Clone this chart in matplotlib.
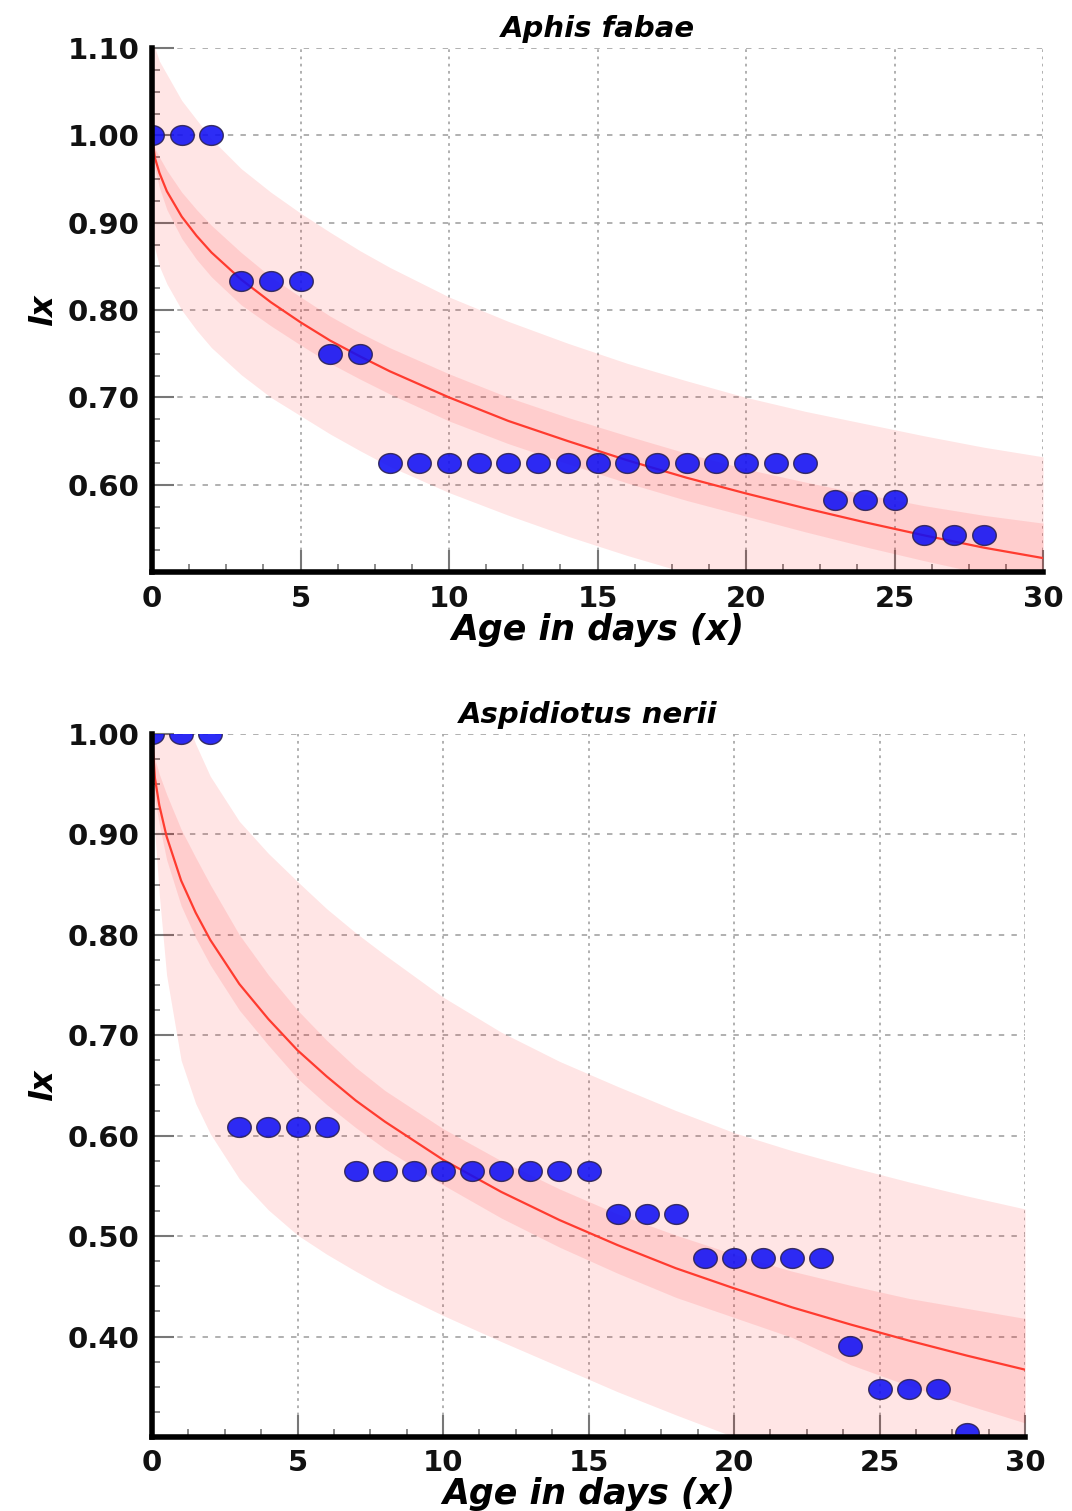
import numpy as np
import matplotlib
matplotlib.use("Agg")
import matplotlib.pyplot as plt
from matplotlib.path import Path
from matplotlib.ticker import MultipleLocator, FormatStrFormatter

# observed survivorship (lx) per age
age = list(range(0, 29))
aphis_lx = [1.0, 1.0, 1.0, 0.833, 0.833, 0.833, 0.75, 0.75] + [0.625]*15 + [0.583]*3 + [0.542]*3
aspid_lx = [1.0]*3 + [0.609]*4 + [0.565]*9 + [0.522]*3 + [0.478]*5 + [0.391] + [0.348]*3 + [0.304]

# fitted curve and bands
fit_x = [0, 0.1, 0.25, 0.5, 1, 1.5, 2, 3, 4, 5, 6, 7, 8, 10, 12, 14, 16, 18, 20, 22, 24, 26, 28, 30]

aphis_fit = [1.0, .974, .957, .936, .907, .885, .866, .835, .809, .786, .765, .747, .730, .700, .673, .650, .628, .608, .590, .573, .557, .542, .528, .516]
aphis_ci_hi = [1.0, .985, .975, .96, .935, .915, .897, .866, .838, .815, .793, .774, .757, .727, .700, .677, .656, .636, .618, .603, .589, .576, .565, .556]
aphis_ci_lo = [1.0, .962, .94, .915, .882, .858, .838, .806, .782, .760, .739, .721, .704, .673, .647, .624, .602, .582, .564, .546, .529, .513, .498, .484]
aphis_pi_hi = [1.12, 1.10, 1.085, 1.07, 1.04, 1.018, .996, .962, .935, .911, .889, .868, .849, .815, .787, .762, .739, .719, .70, .684, .67, .656, .643, .632]
aphis_pi_lo = [.89, .87, .85, .83, .80, .777, .757, .726, .70, .679, .658, .639, .621, .591, .565, .541, .519, .499, .48, .463, .447, .432, .418, .405]

aspid_fit = [1.0, .956, .929, .898, .854, .822, .795, .751, .716, .685, .659, .635, .614, .576, .544, .516, .491, .468, .448, .429, .412, .396, .381, .367]
aspid_ci_hi = [1.0, .975, .96, .94, .905, .877, .85, .80, .76, .725, .695, .668, .645, .607, .575, .547, .522, .501, .482, .465, .451, .438, .428, .418]
aspid_ci_lo = [1.0, .935, .91, .875, .829, .797, .77, .725, .69, .657, .631, .608, .587, .551, .518, .489, .463, .439, .419, .399, .372, .351, .332, .314]
aspid_pi_hi = [1.25, 1.2, 1.16, 1.11, 1.03, .99, .958, .913, .881, .853, .826, .802, .78, .738, .703, .674, .649, .625, .603, .585, .569, .554, .54, .527]
aspid_pi_lo = [.98, .90, .84, .76, .675, .632, .602, .557, .526, .501, .482, .465, .449, .421, .395, .37, .345, .322, .30, .28, .262, .245, .23, .215]

# slightly wide ellipse marker
t = np.linspace(0, 2*np.pi, 41)
ellipse = Path(np.column_stack([np.cos(t), 0.84*np.sin(t)]))


def panel(ax, title, lx, fit, ci_lo, ci_hi, pi_lo, pi_hi, ylo, yhi, yticks):
    ax.fill_between(fit_x, pi_lo, pi_hi, color="red", alpha=0.1, lw=0, zorder=1)
    ax.fill_between(fit_x, ci_lo, ci_hi, color="red", alpha=0.1, lw=0, zorder=1)
    ax.plot(fit_x, fit, color="#ff3b2f", lw=1.6, zorder=2)
    ax.plot(age, lx, ls="none", marker=ellipse, ms=17, mfc="#1010f5", mec="#2a2050",
            mew=1.0, alpha=0.88, zorder=3)

    ax.set_xlim(0, 30)
    ax.set_ylim(ylo, yhi)
    ax.set_xticks([0, 5, 10, 15, 20, 25, 30])
    ax.set_yticks(yticks)
    ax.xaxis.set_minor_locator(MultipleLocator(1.25))
    ax.yaxis.set_minor_locator(MultipleLocator(0.025))
    ax.yaxis.set_major_formatter(FormatStrFormatter("%.2f"))

    for s in ["top", "right"]:
        ax.spines[s].set_visible(False)
    for s in ["left", "bottom"]:
        ax.spines[s].set_linewidth(4)
        ax.spines[s].set_color("black")
        ax.spines[s].set_zorder(5)

    ax.tick_params(which="major", direction="in", length=16, width=1.5, color="#777777",
                   labelsize=21, pad=9)
    ax.tick_params(which="minor", direction="in", length=6, width=1.2, color="#777777")
    for lab in ax.get_xticklabels() + ax.get_yticklabels():
        lab.set_fontweight("bold")
        lab.set_color("#111111")

    ax.grid(axis="y", which="major", color="#aaaaaa", lw=1.3, ls=(0, (3, 4)))
    ax.grid(axis="x", which="major", color="#aaaaaa", lw=1.3, ls=(0, (1.5, 2.5)))
    ax.set_axisbelow(True)

    ax.set_title(title, fontsize=21, fontweight="bold", style="italic", pad=8)
    ax.set_xlabel("Age in days (x)", fontsize=25, fontweight="bold", style="italic", labelpad=0)
    ax.set_ylabel("lx", fontsize=23, fontweight="bold", style="italic", labelpad=6)


fig = plt.figure(figsize=(10.72, 15.11), dpi=100)
ax1 = fig.add_axes([0.1418, 0.6214, 0.8312, 0.3468])
ax2 = fig.add_axes([0.1418, 0.049, 0.8144, 0.4653])

panel(ax1, "Aphis fabae", aphis_lx, aphis_fit, aphis_ci_lo, aphis_ci_hi, aphis_pi_lo, aphis_pi_hi,
      0.5, 1.1, [0.6, 0.7, 0.8, 0.9, 1.0, 1.1])
panel(ax2, "Aspidiotus nerii", aspid_lx, aspid_fit, aspid_ci_lo, aspid_ci_hi, aspid_pi_lo, aspid_pi_hi,
      0.3, 1.0, [0.4, 0.5, 0.6, 0.7, 0.8, 0.9, 1.0])

fig.savefig("out.png", dpi=100)
